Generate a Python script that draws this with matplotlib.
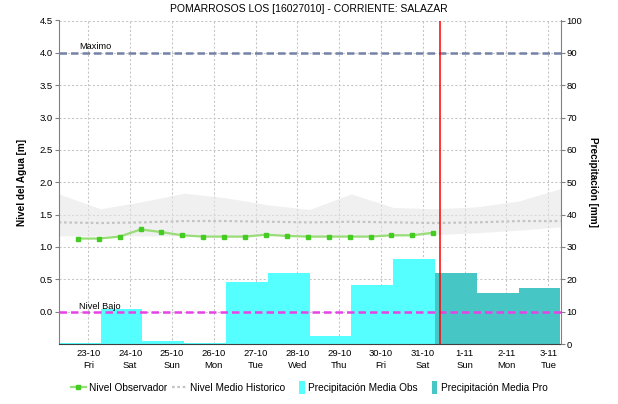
import numpy as np
import matplotlib
matplotlib.use("Agg")
import matplotlib.pyplot as plt
from matplotlib.lines import Line2D
from matplotlib.patches import Patch, Rectangle
from matplotlib.legend_handler import HandlerPatch

plt.rcParams["font.family"] = ["Liberation Sans", "DejaVu Sans"]

title = "POMARROSOS LOS [16027010] - CORRIENTE: SALAZAR"

# Observed water level, every 12 h starting 22-10 18:00
obs_start = np.datetime64("2020-10-22T18:00")
obs_level = [1.13, 1.13, 1.16, 1.27, 1.23, 1.18, 1.16, 1.16, 1.16,
             1.19, 1.17, 1.16, 1.16, 1.16, 1.16, 1.18, 1.18, 1.22]

# Historical level statistics at 07:00 of each day (22-10 .. 3-11)
hist_start = np.datetime64("2020-10-22T07:00")
hist_mean = [1.38, 1.37, 1.38, 1.40, 1.40, 1.39, 1.38, 1.39, 1.38,
             1.37, 1.38, 1.40, 1.40]
hist_high = [1.82, 1.59, 1.70, 1.83, 1.76, 1.65, 1.58, 1.82, 1.61,
             1.59, 1.62, 1.71, 1.90]
hist_low = [1.17, 1.17, 1.17, 1.17, 1.17, 1.17, 1.17, 1.17, 1.17,
            1.19, 1.22, 1.26, 1.31]

# Daily precipitation (07:00 to 07:00), observed then forecast
precip_obs_start = np.datetime64("2020-10-22T07:00")
precip_obs = [0.3, 10.9, 0.9, 0.2, 19.2, 22.0, 2.6, 18.3, 26.4]
precip_pro_start = np.datetime64("2020-10-31T07:00")
precip_pro = [21.8, 15.9, 17.4]

now_time = np.datetime64("2020-10-31T10:00")
level_max = 4.0
level_low = 0.0

tick_start = np.datetime64("2020-10-23T00:00")
tick_dates = ["23-10", "24-10", "25-10", "26-10", "27-10", "28-10",
              "29-10", "30-10", "31-10", "1-11", "2-11", "3-11"]
tick_days = ["Fri", "Sat", "Sun", "Mon", "Tue", "Wed",
             "Thu", "Fri", "Sat", "Sun", "Mon", "Tue"]

x_start = np.datetime64("2020-10-22T07:00")
x_end = np.datetime64("2020-11-03T07:00")

day = np.timedelta64(1, "D")
half_day = np.timedelta64(12, "h")
obs_times = obs_start + np.arange(len(obs_level)) * half_day
hist_times = hist_start + np.arange(len(hist_mean)) * day
precip_obs_times = precip_obs_start + np.arange(len(precip_obs)) * day
precip_pro_times = precip_pro_start + np.arange(len(precip_pro)) * day
tick_times = tick_start + np.arange(len(tick_dates)) * day

# colours
c_obs_bar = "#55ffff"
c_pro_bar = "#47c6c6"
c_line = "#99dd77"
c_marker = "#44cc22"
c_hist = "#c4c4c4"
c_band = "#e6e6e6"
c_max = "#7482a8"
c_low = "#e642e6"
c_axis = "#808080"

W, H = 618, 404
fig = plt.figure(figsize=(W / 100, H / 100), dpi=100)
left, right, top, bottom = 58.7, 560.5, 20.5, 344.0
ax_p = fig.add_axes([left / W, 1 - bottom / H, (right - left) / W, (bottom - top) / H])
ax_l = ax_p.twinx()

# precipitation axis (drawn underneath) carries the grid and the right scale
ax_p.set_ylim(0, 100)
ax_p.set_yticks(np.arange(0, 101, 10))
ax_p.yaxis.tick_right()
ax_p.yaxis.set_label_position("right")
ax_p.set_xlim(x_start, x_end)
ax_p.set_xticks(tick_times)
ax_p.set_xticklabels([f"{d}\n{w}" for d, w in zip(tick_dates, tick_days)],
                     linespacing=1.4)
ax_p.grid(True, color="#c4c4c4", linestyle=(0, (2, 2)), linewidth=0.75)
ax_p.set_axisbelow(True)
ax_p.bar(precip_obs_times, precip_obs, width=day, align="edge",
         color=c_obs_bar, linewidth=0, zorder=2)
ax_p.bar(precip_pro_times, precip_pro, width=day, align="edge",
         color=c_pro_bar, linewidth=0, zorder=3)
for s in ax_p.spines.values():
    s.set_visible(False)
ax_p.tick_params(axis="y", which="both", right=True, left=False, length=3,
                 color=c_axis, labelsize=6.8, pad=1.5)
ax_p.tick_params(axis="x", length=0, labelsize=6.8, pad=3.5)
ax_p.set_ylabel("Precipitación [mm]", rotation=270, fontsize=7.2,
                fontweight="bold", labelpad=11)

# water level axis on top
ax_l.yaxis.tick_left()
ax_l.yaxis.set_label_position("left")
ax_l.set_ylim(-0.5, 4.5)
ax_l.set_yticks(np.arange(0, 4.51, 0.5))
ax_l.set_yticklabels([f"{v:.1f}" for v in np.arange(0, 4.51, 0.5)])
ax_l.tick_params(axis="y", which="both", left=True, right=False, length=3,
                 color=c_axis, labelsize=6.8, pad=1.5)
ax_l.set_ylabel("Nivel del Agua [m]", fontsize=7.2, fontweight="bold", labelpad=9)
ax_l.spines["top"].set_visible(False)
ax_l.spines["left"].set_color(c_axis)
ax_l.spines["right"].set_color(c_axis)
ax_l.spines["bottom"].set_color("#404040")
ax_l.spines["bottom"].set_linestyle((0, (1, 1)))

ax_l.fill_between(hist_times, hist_low, hist_high, color=c_band, alpha=0.6,
                  linewidth=0, zorder=1)
ax_l.plot(hist_times, hist_mean, color=c_hist, linewidth=1.6,
          linestyle=(0, (1.2, 1.2)), zorder=2)
ax_l.plot(obs_times, obs_level, color=c_line, linewidth=1.6, marker="s",
          markersize=2.4, markerfacecolor=c_marker, markeredgecolor=c_marker,
          zorder=3)
ax_l.axhline(level_max, color=c_max, linewidth=1.8, linestyle=(0, (3, 1.6)), zorder=4)
ax_l.axhline(level_low, color=c_low, linewidth=1.8, linestyle=(0, (3, 1.6)), zorder=4)
ax_l.annotate("Maximo", xy=(0.04, level_max), xycoords=("axes fraction", "data"),
              xytext=(0, 1), textcoords="offset points", fontsize=6.6,
              ha="left", va="bottom", zorder=5)
ax_l.annotate("Nivel Bajo", xy=(0.04, level_low), xycoords=("axes fraction", "data"),
              xytext=(0, 0.5), textcoords="offset points", fontsize=6.6,
              ha="left", va="bottom", zorder=5)
ax_l.axvline(now_time, color="red", linewidth=1.1, zorder=6)

fig.text(0.5, 1 - 8.5 / H, title, ha="center", va="center", fontsize=7.5)


def narrow_patch(legend, orig_handle, xdescent, ydescent, width, height, fontsize):
    w = 0.55 * fontsize
    return Rectangle((-xdescent + width - w, -ydescent - 0.25 * fontsize),
                     w, height + 0.5 * fontsize)


handles = [
    Line2D([], [], color=c_line, linewidth=1.6, marker="s", markersize=2.4,
           markerfacecolor=c_marker, markeredgecolor=c_marker),
    Line2D([], [], color=c_hist, linewidth=1.6, linestyle=(0, (1.2, 1.2))),
    Patch(facecolor=c_obs_bar),
    Patch(facecolor=c_pro_bar),
]
labels = ["Nivel Observador", "Nivel Medio Historico",
          "Precipitación Media Obs", "Precipitación Media Pro"]
fig.legend(handles, labels, loc="center", bbox_to_anchor=(0.5, 1 - 388 / H),
           ncol=4, frameon=False, fontsize=7.3, handlelength=1.5,
           handletextpad=0.35, columnspacing=0.4,
           handler_map={Patch: HandlerPatch(patch_func=narrow_patch)})

fig.savefig("out.png", dpi=100)
